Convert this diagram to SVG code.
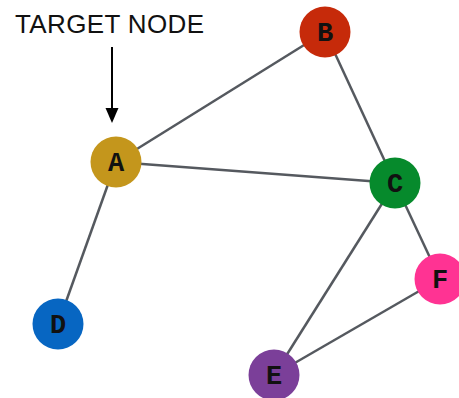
<svg xmlns="http://www.w3.org/2000/svg" width="459" height="398" viewBox="0 0 459 398">
<style>
.edge{stroke:#55595f;stroke-width:2.5;fill:none}
.node circle{stroke:none}
.lbl{font-family:"Courier New","Liberation Mono",monospace;font-weight:bold;font-size:27px;fill:#111;text-anchor:middle}
.title{font-family:"Liberation Sans",Arial,sans-serif;font-size:26px;fill:#111}
</style>
<rect width="459" height="398" fill="#fff"/>
<g id="connectors">
<line class="edge" x1="116" y1="162" x2="325" y2="32"/>
<line class="edge" x1="116" y1="162" x2="395" y2="183"/>
<line class="edge" x1="116" y1="162" x2="58" y2="324"/>
<line class="edge" x1="325" y1="32" x2="395" y2="183"/>
<line class="edge" x1="395" y1="183" x2="274" y2="375"/>
<line class="edge" x1="395" y1="183" x2="440" y2="279"/>
<line class="edge" x1="274" y1="375" x2="440" y2="279"/>
</g>
<g id="pointer">
<text class="title" x="15" y="33" textLength="189" lengthAdjust="spacing">TARGET NODE</text>
<line x1="112" y1="47" x2="112" y2="110" stroke="#000" stroke-width="2"/>
<polygon points="105.5,108 118.5,108 112,123" fill="#000"/>
</g>
<g id="node-A" class="node"><circle cx="116" cy="162" r="25.5" fill="#c4961c"/><text class="lbl" x="116" y="171">A</text></g>
<g id="node-B" class="node"><circle cx="325" cy="32" r="25.5" fill="#c62a0a"/><text class="lbl" x="325" y="40.5">B</text></g>
<g id="node-C" class="node"><circle cx="395" cy="183" r="25.5" fill="#068a2c"/><text class="lbl" x="395" y="191.5">C</text></g>
<g id="node-D" class="node"><circle cx="58" cy="324" r="25.5" fill="#0766c2"/><text class="lbl" x="58" y="332.5">D</text></g>
<g id="node-E" class="node"><circle cx="274" cy="375" r="25.5" fill="#7b3f99"/><text class="lbl" x="274" y="383.5">E</text></g>
<g id="node-F" class="node"><circle cx="440" cy="279" r="25.5" fill="#ff3393"/><text class="lbl" x="440" y="287.5">F</text></g>
</svg>
